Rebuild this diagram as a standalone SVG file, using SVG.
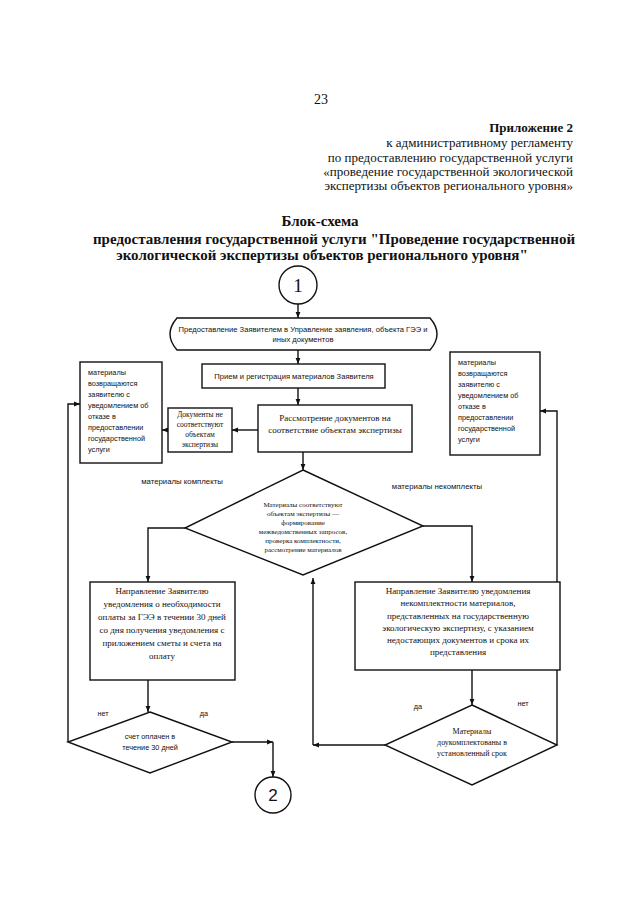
<svg xmlns="http://www.w3.org/2000/svg" width="640" height="905" viewBox="0 0 640 905">
<defs>
<marker id="ah" viewBox="0 0 10 10" refX="10" refY="5" markerWidth="6" markerHeight="6" orient="auto" markerUnits="userSpaceOnUse"><path d="M0,1 L10,5 L0,9 Z" fill="#111"/></marker>
<style>
.ser{font-family:"Liberation Serif","Times New Roman",serif;fill:#111}
.san{font-family:"Liberation Sans",Arial,sans-serif;fill:#111}
.box{fill:#fff;stroke:#111;stroke-width:1.4}
.ln{fill:none;stroke:#111;stroke-width:1.4}
.arr{fill:none;stroke:#111;stroke-width:1.4;marker-end:url(#ah)}
.hd{font-size:13px}
.tt{font-size:15px;font-weight:bold}
.s7{font-size:7.3px}
.b9{font-size:9px}
</style>
</defs>
<rect width="640" height="905" fill="#fff"/>

<g id="header">
<text class="ser" x="321" y="104" font-size="14" text-anchor="middle">23</text>
<text class="ser hd" x="573" y="132" text-anchor="end" font-weight="bold">Приложение 2</text>
<text class="ser hd" x="573" y="147" text-anchor="end">к административному регламенту</text>
<text class="ser hd" x="573" y="162" text-anchor="end">по предоставлению государственной услуги</text>
<text class="ser hd" x="573" y="176" text-anchor="end">«проведение государственной экологической</text>
<text class="ser hd" x="573" y="190" text-anchor="end">экспертизы объектов регионального уровня»</text>
</g>

<g id="title">
<text class="ser tt" x="320" y="226" text-anchor="middle">Блок-схема</text>
<text class="ser tt" x="334" y="244" text-anchor="middle">предоставления государственной услуги "Проведение государственной</text>
<text class="ser tt" x="322" y="260" text-anchor="middle">экологической экспертизы объектов регионального уровня"</text>
</g>

<g id="connectors">
<line class="arr" x1="298" y1="304" x2="298" y2="318"/>
<line class="arr" x1="298" y1="350" x2="298" y2="364"/>
<line class="arr" x1="298" y1="388" x2="298" y2="405"/>
<line class="arr" x1="258" y1="430" x2="232" y2="430"/>
<line class="arr" x1="168" y1="430" x2="162" y2="430"/>
<line class="arr" x1="303" y1="452" x2="303" y2="470"/>
<polyline class="arr" points="185,528 148,528 148,582"/>
<polyline class="arr" points="423,526 472,526 472,582"/>
<line class="arr" x1="148" y1="680" x2="148" y2="712"/>
<line class="arr" x1="472" y1="670" x2="472" y2="705"/>
<polyline class="arr" points="68,742 68,404 80,404"/>
<line class="arr" x1="232" y1="742" x2="273" y2="742"/>
<line class="arr" x1="273" y1="742" x2="273" y2="777"/>
<polyline class="arr" points="557,745 557,411 540,411"/>
<line class="arr" x1="385" y1="745" x2="313" y2="745"/>
<line class="arr" x1="313" y1="745" x2="313" y2="578"/>
</g>

<g id="start">
<circle class="box" cx="298" cy="285" r="19"/>
<text class="ser" x="298" y="292" font-size="19" text-anchor="middle">1</text>
</g>

<g id="submit">
<path class="box" d="M177,318 H430 Q444,334 430,350 H177 Q163,334 177,318 Z"/>
<text class="san" font-size="7.6" x="303" y="332" text-anchor="middle">Предоставление Заявителем в Управление заявления, объекта ГЭЭ и</text>
<text class="san" font-size="7.6" x="303" y="342" text-anchor="middle">иных документов</text>
</g>

<g id="register">
<rect class="box" x="202" y="364" width="183" height="24"/>
<text class="san" font-size="7.6" x="294" y="379" text-anchor="middle">Прием и регистрация материалов Заявителя</text>
</g>

<g id="review">
<rect class="box" x="258" y="405" width="154" height="47"/>
<text class="ser b9" x="335" y="421" text-anchor="middle">Рассмотрение документов на</text>
<text class="ser b9" x="335" y="433" text-anchor="middle">соответствие объектам экспертизы</text>
</g>

<g id="mismatch">
<rect class="box" x="168" y="408" width="64" height="44"/>
<text class="ser" font-size="7.5" x="200" y="417" text-anchor="middle">Документы не</text>
<text class="ser" font-size="7.5" x="200" y="427" text-anchor="middle">соответствуют</text>
<text class="ser" font-size="7.5" x="200" y="437" text-anchor="middle">объектам</text>
<text class="ser" font-size="7.5" x="200" y="447" text-anchor="middle">экспертизы</text>
</g>

<g id="return-left">
<rect class="box" x="80" y="362" width="82" height="101"/>
<text class="san s7" x="88" y="375">материалы</text>
<text class="san s7" x="88" y="386">возвращаются</text>
<text class="san s7" x="88" y="397">заявителю с</text>
<text class="san s7" x="88" y="408">уведомлением об</text>
<text class="san s7" x="88" y="419">отказе в</text>
<text class="san s7" x="88" y="430">предоставлении</text>
<text class="san s7" x="88" y="441">государственной</text>
<text class="san s7" x="88" y="452">услуги</text>
</g>

<g id="return-right">
<rect class="box" x="450" y="352" width="90" height="103"/>
<text class="san s7" x="458" y="365">материалы</text>
<text class="san s7" x="458" y="376">возвращаются</text>
<text class="san s7" x="458" y="387">заявителю с</text>
<text class="san s7" x="458" y="398">уведомлением об</text>
<text class="san s7" x="458" y="409">отказе в</text>
<text class="san s7" x="458" y="420">предоставлении</text>
<text class="san s7" x="458" y="431">государственной</text>
<text class="san s7" x="458" y="442">услуги</text>
</g>

<g id="check">
<polygon class="box" points="303,470 423,526 303,575 185,528"/>
<text class="san" font-size="7.8" x="182" y="484" text-anchor="middle">материалы комплекты</text>
<text class="san" font-size="7.8" x="437" y="489" text-anchor="middle">материалы некомплекты</text>
<text class="ser" font-size="7" x="303" y="507" text-anchor="middle">Материалы соответствуют</text>
<text class="ser" font-size="7" x="303" y="516" text-anchor="middle">объектам экспертизы —</text>
<text class="ser" font-size="7" x="303" y="525" text-anchor="middle">формирование</text>
<text class="ser" font-size="7" x="303" y="534" text-anchor="middle">межведомственных запросов,</text>
<text class="ser" font-size="7" x="303" y="543" text-anchor="middle">проверка комплектности,</text>
<text class="ser" font-size="7" x="303" y="552" text-anchor="middle">рассмотрение материалов</text>
</g>

<g id="payment-notice">
<rect class="box" x="90" y="582" width="145" height="98"/>
<text class="ser b9" x="162" y="594" text-anchor="middle">Направление Заявителю</text>
<text class="ser b9" x="162" y="607" text-anchor="middle">уведомления о необходимости</text>
<text class="ser b9" x="162" y="620" text-anchor="middle">оплаты за ГЭЭ в течении 30 дней</text>
<text class="ser b9" x="162" y="633" text-anchor="middle">со дня получения уведомления с</text>
<text class="ser b9" x="162" y="646" text-anchor="middle">приложением сметы и счета на</text>
<text class="ser b9" x="162" y="659" text-anchor="middle">оплату</text>
</g>

<g id="incomplete-notice">
<rect class="box" x="355" y="582" width="205" height="88"/>
<text class="ser b9" x="458" y="594" text-anchor="middle">Направление Заявителю уведомления</text>
<text class="ser b9" x="458" y="606" text-anchor="middle">некомплектности материалов,</text>
<text class="ser b9" x="458" y="619" text-anchor="middle">представленных на государственную</text>
<text class="ser b9" x="458" y="631" text-anchor="middle">экологическую экспертизу, с указанием</text>
<text class="ser b9" x="458" y="643" text-anchor="middle">недостающих документов  и срока их</text>
<text class="ser b9" x="458" y="655" text-anchor="middle">представления</text>
</g>

<g id="paid">
<polygon class="box" points="150,712 232,742 150,773 68,742"/>
<text class="san s7" x="103" y="716" text-anchor="middle">нет</text>
<text class="san s7" x="204" y="716" text-anchor="middle">да</text>
<text class="san s7" x="150" y="739" text-anchor="middle">счет оплачен в</text>
<text class="san s7" x="150" y="750" text-anchor="middle">течение 30 дней</text>
</g>

<g id="completed">
<polygon class="box" points="472,705 557,745 472,785 385,745"/>
<text class="san s7" x="418" y="709" text-anchor="middle">да</text>
<text class="san s7" x="523" y="706" text-anchor="middle">нет</text>
<text class="ser" font-size="8" x="472" y="734" text-anchor="middle">Материалы</text>
<text class="ser" font-size="8" x="472" y="745" text-anchor="middle">доукомплектованы в</text>
<text class="ser" font-size="8" x="472" y="756" text-anchor="middle">установленный срок</text>
</g>

<g id="end">
<circle class="box" cx="273" cy="795" r="18"/>
<text class="san" x="273" y="801" font-size="17" text-anchor="middle">2</text>
</g>
</svg>
